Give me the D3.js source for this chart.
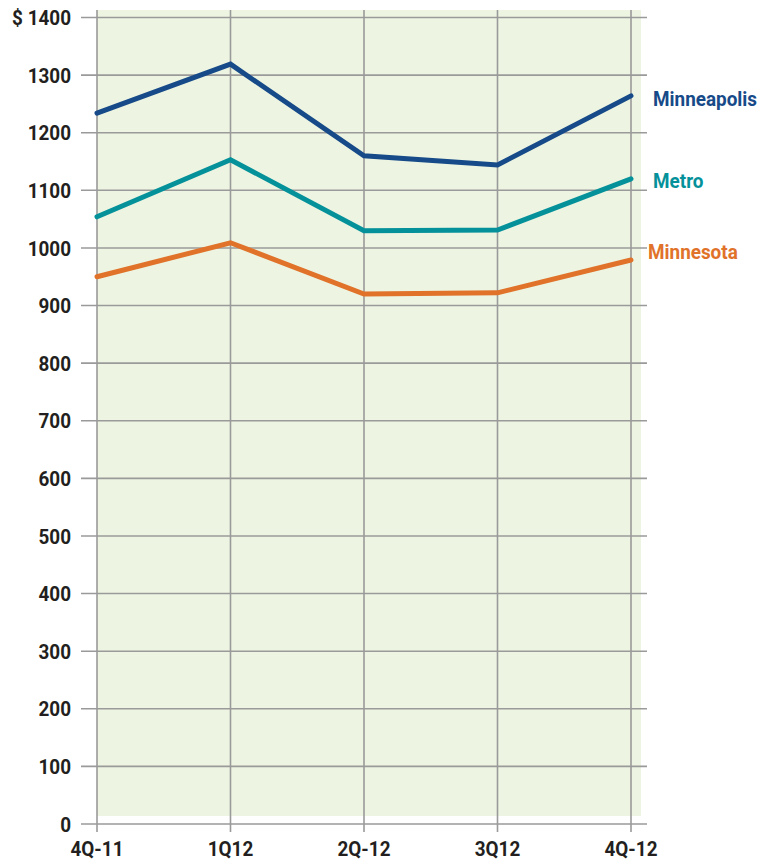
<!DOCTYPE html>
<html><head><meta charset="utf-8">
<script src="https://cdn.jsdelivr.net/npm/d3@7"></script>
<style>
body{margin:0;background:#fff;}
text{font-family:Roboto,"Liberation Sans",sans-serif;font-weight:bold;}
</style></head>
<body><svg id="c" width="762" height="861"></svg>
<script>
const categories = ["4Q-11","1Q12","2Q-12","3Q12","4Q-12"];
const minneapolis = [1234,1319,1160,1144,1264];
const metro = [1054,1153,1030,1031,1120];
const minnesota = [950,1009,920,922,979];
const yTicks = [0,100,200,300,400,500,600,700,800,900,1000,1100,1200,1300,1400];
const seriesNames = ["Minneapolis","Metro","Minnesota"];
const seriesColors = ["#174a88","#05919a","#e0722a"];

const svg = d3.select("#c");
const x = d3.scalePoint().domain(categories).range([97,631]);
const y = d3.scaleLinear().domain([0,1400]).range([824,17.5]);
const sx = 0.9;

svg.append("rect").attr("x",97).attr("y",10).attr("width",641-97).attr("height",816-10).attr("fill","#edf5e2");

svg.append("g").selectAll("line").data(yTicks).join("line")
  .attr("x1",81).attr("x2",647).attr("y1",d=>y(d)).attr("y2",d=>y(d))
  .attr("stroke","#9a9a9a").attr("stroke-width",1.6);
svg.append("g").selectAll("line").data(categories).join("line")
  .attr("x1",d=>x(d)).attr("x2",d=>x(d)).attr("y1",10).attr("y2",832)
  .attr("stroke","#9a9a9a").attr("stroke-width",1.6);

svg.append("g").selectAll("text").data(yTicks).join("text")
  .attr("transform",d=>`translate(71,${y(d)}) scale(${sx},1)`)
  .attr("dy","0.36em").attr("text-anchor","end")
  .attr("font-size",21).attr("fill","#231f20")
  .text(d=>d===1400?"$ 1400":d);
svg.append("g").selectAll("text").data(categories).join("text")
  .attr("transform",d=>`translate(${x(d)},856) scale(${sx},1)`)
  .attr("text-anchor","middle")
  .attr("font-size",21).attr("fill","#231f20").text(d=>d);

const data = [minneapolis, metro, minnesota];
const line = d3.line().x((d,i)=>x(categories[i])).y(d=>y(d));
svg.append("g").selectAll("path").data(data).join("path")
  .attr("d",line).attr("fill","none")
  .attr("stroke",(d,i)=>seriesColors[i]).attr("stroke-width",5)
  .attr("stroke-linecap","round").attr("stroke-linejoin","miter");

const labelPos = [{x:653,y:98},{x:653,y:180},{x:648,y:251}];
svg.append("g").selectAll("text").data(seriesNames).join("text")
  .attr("transform",(d,i)=>`translate(${labelPos[i].x},${labelPos[i].y}) scale(${sx},1)`)
  .attr("dy","0.36em")
  .attr("font-size",21).attr("fill",(d,i)=>seriesColors[i]).text(d=>d);
</script></body></html>
